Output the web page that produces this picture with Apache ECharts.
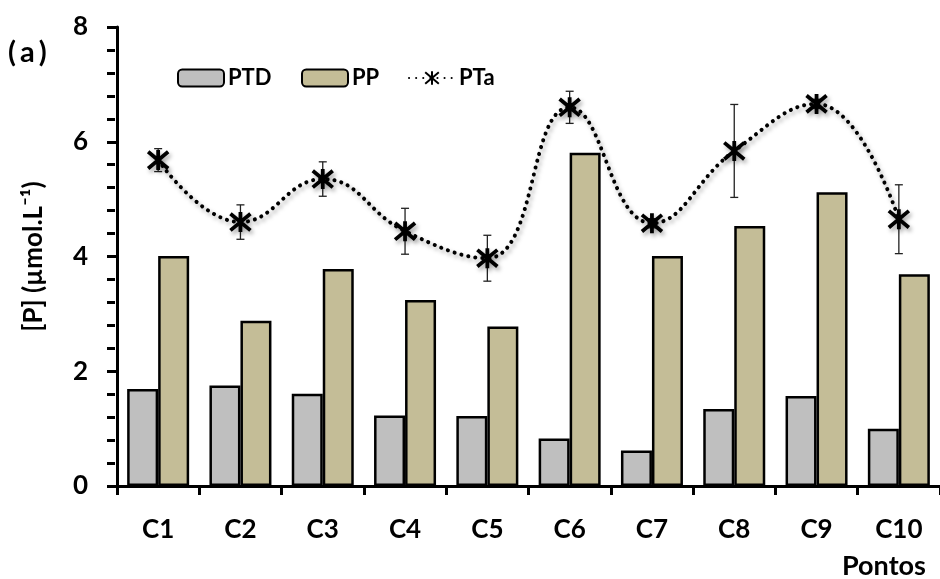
<!DOCTYPE html>
<html>
<head>
<meta charset="utf-8">
<script src="https://cdn.jsdelivr.net/npm/echarts@6/dist/echarts.min.js"></script>
<style>
  html, body { margin: 0; padding: 0; background: #fff; }
  #chart { width: 940px; height: 579px; }
</style>
</head>
<body>
<div id="chart"></div>
<script>
// Sampling points
const categories = ['C1', 'C2', 'C3', 'C4', 'C5', 'C6', 'C7', 'C8', 'C9', 'C10'];
// Dissolved phosphorus (PTD), µmol/L
const ptd = [1.69, 1.75, 1.61, 1.23, 1.22, 0.83, 0.62, 1.34, 1.57, 1.00];
// Particulate phosphorus (PP), µmol/L
const pp = [4.01, 2.88, 3.78, 3.24, 2.78, 5.81, 4.01, 4.53, 5.12, 3.69];
// Total phosphorus (PTa), µmol/L, and its standard deviation
const pta = [5.68, 4.60, 5.35, 4.44, 3.97, 6.60, 4.58, 5.84, 6.66, 4.65];
const ptaSd = [0.20, 0.30, 0.30, 0.40, 0.40, 0.28, 0.08, 0.81, 0.08, 0.60];
// Y axis range
const yMin = 0, yMax = 8, yStep = 2;

const FONT = 'Lato, "Open Sans", sans-serif';
const GRID = { left: 117, top: 27, width: 833, height: 459 };

const starPath = 'path://M0,0 L10,10 M10,0 L0,10 M5,-1 L5,11';

const chart = echarts.init(document.getElementById('chart'), null, { renderer: 'canvas' });

const legendText = { fontFamily: FONT, fontSize: 22, color: '#000', fontWeight: 'bold', padding: [0, 0, 0, -1] };
function legendAt(name, left) {
  return {
    data: [name], left: left, top: 62, itemWidth: 46, itemHeight: 17, itemGap: 0,
    textStyle: legendText, selectedMode: false
  };
}

const titleFont = { fontFamily: FONT, fontSize: 29, fontWeight: 'bold', color: '#000' };

const option = {
  animation: false,
  backgroundColor: '#fff',
  textStyle: { fontFamily: FONT },
  title: {
    text: '{p|(}{a|a}{p|)}', left: 3, top: 33,
    textStyle: {
      rich: {
        p: titleFont,
        a: Object.assign({ padding: [0, 4, 0, 4] }, titleFont)
      }
    }
  },
  legend: [legendAt('PTD', 172), legendAt('PP', 296), legendAt('PTa', 403)],
  grid: GRID,
  xAxis: [
    {
      type: 'category', data: categories, position: 'bottom',
      axisLine: { lineStyle: { color: '#000', width: 3 } },
      axisTick: { show: true, length: 9, lineStyle: { color: '#000', width: 3 } },
      axisLabel: { fontFamily: FONT, fontSize: 26, fontWeight: 'bold', color: '#000', margin: 31 }
    },
    {
      type: 'category', data: categories, position: 'top',
      axisLine: { lineStyle: { color: '#000', width: 3 } },
      axisTick: { show: false }, axisLabel: { show: false }
    }
  ],
  yAxis: [
    {
      type: 'value', min: yMin, max: yMax, interval: yStep, position: 'left',
      name: '[P] (µmol.L⁻¹)', nameLocation: 'middle', nameGap: 70, nameRotate: 90,
      nameTextStyle: { fontFamily: FONT, fontSize: 26, fontWeight: 'bold', color: '#000' },
      axisLine: { show: true, lineStyle: { color: '#000', width: 3 } },
      axisTick: { show: true, inside: false, length: 10, lineStyle: { color: '#000', width: 3 } },
      axisLabel: { fontFamily: FONT, fontSize: 26, fontWeight: 'bold', color: '#000', margin: 29 },
      splitLine: { show: false }
    },
    {
      type: 'value', min: yMin, max: yMax, interval: yStep, position: 'right', offset: -GRID.width,
      axisLine: { show: false },
      axisTick: { show: true, inside: false, length: 10, lineStyle: { color: '#000', width: 3 } },
      minorTick: { show: true, splitNumber: 5, length: 8, lineStyle: { color: '#000', width: 3 } },
      axisLabel: { show: false },
      splitLine: { show: false }
    }
  ],
  series: [
    {
      name: 'PTD', type: 'bar', data: ptd, barWidth: 31, barGap: '0%',
      itemStyle: { color: '#BFBFBF', borderColor: '#000', borderWidth: 2.5 },
      z: 2
    },
    {
      name: 'PP', type: 'bar', data: pp, barWidth: 31,
      itemStyle: { color: '#C4BD97', borderColor: '#000', borderWidth: 2.5 },
      z: 2
    },
    {
      name: 'ptaSd', type: 'custom', z: 3,
      data: categories.map((c, i) => [i, pta[i] - ptaSd[i], pta[i] + ptaSd[i]]),
      renderItem: function (params, api) {
        const lo = api.coord([api.value(0), api.value(1)]);
        const hi = api.coord([api.value(0), api.value(2)]);
        const w = 4;
        const st = { stroke: '#222', lineWidth: 1.3 };
        return {
          type: 'group',
          children: [
            { type: 'line', shape: { x1: lo[0], y1: lo[1], x2: hi[0], y2: hi[1] }, style: st },
            { type: 'line', shape: { x1: hi[0] - w, y1: hi[1], x2: hi[0] + w, y2: hi[1] }, style: st },
            { type: 'line', shape: { x1: lo[0] - w, y1: lo[1], x2: lo[0] + w, y2: lo[1] }, style: st }
          ]
        };
      }
    },
    {
      name: 'PTa', type: 'line', data: pta, smooth: 0.45, z: 4,
      symbol: starPath, symbolSize: 20, showSymbol: true,
      lineStyle: {
        color: '#000', width: 4, type: [0.1, 7], cap: 'round',
        shadowColor: 'rgba(0,0,0,0.35)', shadowBlur: 4, shadowOffsetX: 2, shadowOffsetY: 3
      },
      itemStyle: {
        color: 'none', borderColor: '#000', borderWidth: 3.8,
        shadowColor: 'rgba(0,0,0,0.35)', shadowBlur: 4, shadowOffsetX: 2, shadowOffsetY: 3
      }
    }
  ],
  graphic: [
    {
      type: 'text', left: 842, top: 553,
      style: { text: 'Pontos', fontFamily: FONT, fontSize: 27, fontWeight: 'bold', fill: '#000' }
    }
  ]
};

chart.setOption(option);
</script>
</body>
</html>
